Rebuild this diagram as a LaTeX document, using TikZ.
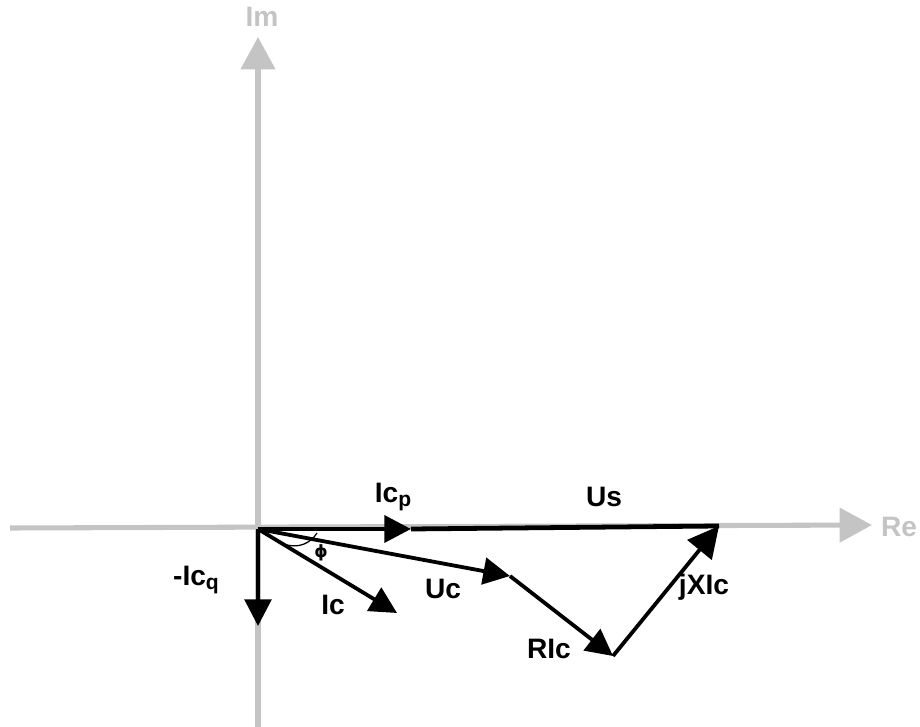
\documentclass[tikz,border=0pt]{standalone}
\usepackage{fontspec}
\setmainfont{Liberation Sans}
\newfontfamily\greekfont{DejaVu Sans}
\usetikzlibrary{arrows.meta}
\definecolor{axisgray}{RGB}{196,196,196}
\newcommand{\lowsub}[1]{\raisebox{-0.3ex}{\fontsize{15}{15}\selectfont #1}}

\begin{document}
\begin{tikzpicture}[x=0.025cm, y=-0.025cm, every node/.style={font=\fontsize{20}{20}\selectfont\bfseries, inner sep=0pt}, axis/.style={axisgray, line width=3.6pt, -{Triangle[length=23pt, width=24pt]}}, vec/.style={line width=2.7pt, -{Triangle[length=19pt, width=19pt]}}]
        \useasboundingbox (0,0) rectangle (920,727);
        % axes
        \coordinate (reL) at (10,528);
        \coordinate (reR) at (872,525);
        \coordinate (imB) at (258,727);
        \coordinate (imT) at (258,37);
        \draw[axis] (reL) -- (reR);
        \draw[axis] (imB) -- (imT);
        \node[text=axisgray] (re) at (899,527) {Re};
        \node[text=axisgray] (im) at (262,17) {Im};
        % phasor points
        \coordinate (O) at (258,529);
        \coordinate (icp) at (411,529);
        \coordinate (us) at (719,526);
        \coordinate (uc) at (510,576);
        \coordinate (ic) at (397,613);
        \coordinate (icq) at (258,626);
        \coordinate (ric) at (613,656);
        \draw[line width=3.4pt] (icp) -- (us);
        \draw[vec, line width=3.4pt] (O) -- (icp);
        \draw[vec] (O) -- (uc);
        \draw[vec] (O) -- (ic);
        \draw[vec] (O) -- (icq);
        \draw[vec] (uc) -- (ric);
        \draw[vec, -{Triangle[length=22pt, width=22pt]}] (ric) -- (us);
        % angle
        \coordinate (phiA) at (317,533);
        \coordinate (phiB) at (287,545);
        \draw[line width=0.9pt] (phiA) to[bend left=35] (phiB);
        \node[font=\fontsize{12}{12}\selectfont\greekfont\bfseries] (phi) at (321,553) {ϕ};
        % labels
        \node (icpl) at (393,497) {Ic\lowsub{p}};
        \node (usl) at (604,497) {Us};
        \node (ucl) at (443,589) {Uc};
        \node (icl) at (333,605) {Ic};
        \node (icql) at (196,580) {-Ic\lowsub{q}};
        \node (ricl) at (549,649) {RIc};
        \node (jxicl) at (704,587) {jXIc};
    \end{tikzpicture}
\end{document}
